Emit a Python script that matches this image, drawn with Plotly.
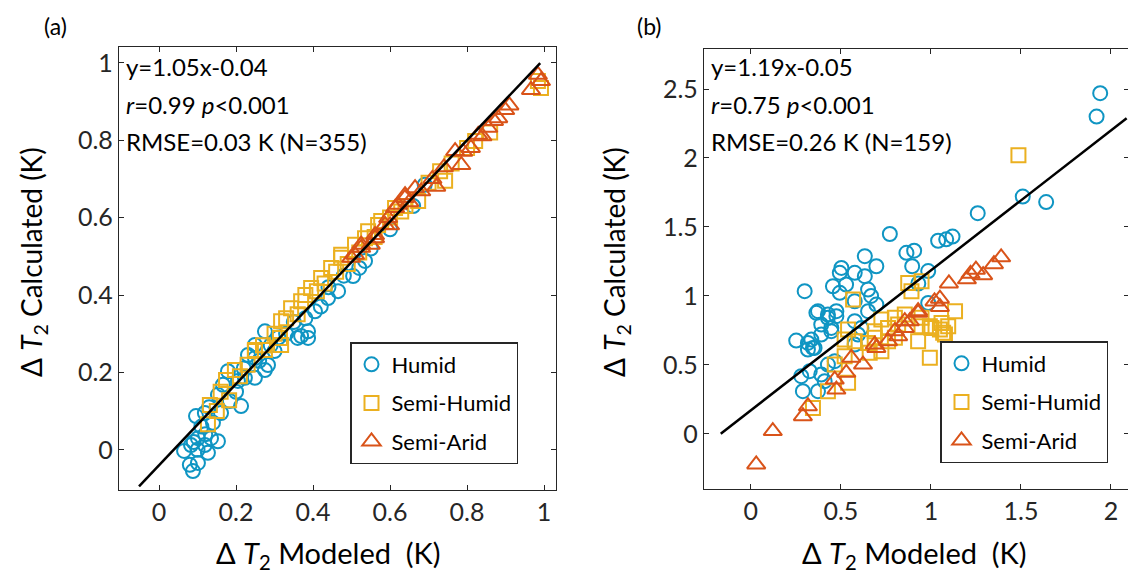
import plotly.graph_objects as go

W, H = 1136, 573

# ---------------- data: panel (a) ----------------
a_humid_x = [0.088, 0.080, 0.065, 0.101, 0.127, 0.153, 0.083, 0.119, 0.101, 0.135, 0.096, 0.119, 0.161,
             0.213, 0.184, 0.153, 0.166, 0.205, 0.223, 0.249, 0.275, 0.283, 0.179, 0.249, 0.300, 0.360,
             0.387, 0.387, 0.369, 0.405, 0.439, 0.465, 0.504, 0.535, 0.275, 0.249, 0.231, 0.110, 0.140,
             0.130, 0.200, 0.220, 0.260, 0.290, 0.310, 0.330, 0.350, 0.380, 0.420, 0.440, 0.480, 0.520,
             0.100, 0.090, 0.120, 0.550, 0.600, 0.690, 0.660]
a_humid_y = [-0.055, -0.039, -0.003, -0.034, -0.008, 0.022, 0.012, 0.012, 0.030, 0.030, 0.087, 0.095, 0.095,
             0.113, 0.126, 0.142, 0.168, 0.178, 0.186, 0.186, 0.206, 0.219, 0.203, 0.237, 0.255, 0.289,
             0.289, 0.306, 0.294, 0.358, 0.392, 0.410, 0.449, 0.488, 0.306, 0.271, 0.245, 0.060, 0.070,
             0.110, 0.150, 0.210, 0.230, 0.270, 0.290, 0.300, 0.330, 0.340, 0.370, 0.420, 0.450, 0.470,
             0.000, 0.020, 0.040, 0.520, 0.570, 0.685, 0.630]

a_semihumid_x = [0.127, 0.132, 0.182, 0.174, 0.197, 0.249, 0.275, 0.317, 0.249, 0.317, 0.314, 0.343, 0.369,
                 0.395, 0.421, 0.447, 0.473, 0.509, 0.543, 0.577, 0.613, 0.473, 0.535, 0.569, 0.629, 0.673,
                 0.730, 0.743, 0.821, 0.984, 0.992, 0.150, 0.160, 0.210, 0.230, 0.270, 0.300, 0.330, 0.360,
                 0.380, 0.410, 0.430, 0.460, 0.490, 0.520, 0.560, 0.600, 0.640, 0.700, 0.760, 0.800, 0.860]
a_semihumid_y = [0.066, 0.116, 0.128, 0.180, 0.206, 0.255, 0.258, 0.271, 0.258, 0.332, 0.289, 0.366, 0.384,
                 0.418, 0.444, 0.470, 0.496, 0.530, 0.565, 0.591, 0.625, 0.504, 0.547, 0.581, 0.616, 0.643,
                 0.720, 0.695, 0.798, 0.953, 0.935, 0.100, 0.150, 0.190, 0.220, 0.270, 0.300, 0.340, 0.350,
                 0.400, 0.410, 0.430, 0.460, 0.480, 0.510, 0.550, 0.600, 0.630, 0.690, 0.740, 0.780, 0.820]

a_semiarid_x = [0.984, 0.966, 0.992, 0.899, 0.881, 0.855, 0.829, 0.810, 0.785, 0.769, 0.665, 0.639, 0.681,
                0.613, 0.587, 0.561, 0.525, 0.499, 0.509, 0.525, 0.561, 0.595, 0.621, 0.639, 0.710, 0.740,
                0.790, 0.840, 0.870, 0.910, 0.720, 0.600, 0.550, 0.650]
a_semiarid_y = [0.969, 0.930, 0.953, 0.878, 0.857, 0.832, 0.814, 0.780, 0.736, 0.772, 0.676, 0.658, 0.668,
                0.625, 0.581, 0.555, 0.522, 0.496, 0.504, 0.530, 0.547, 0.599, 0.633, 0.651, 0.700, 0.730,
                0.770, 0.810, 0.850, 0.890, 0.680, 0.580, 0.530, 0.640]

a_fit_x = [-0.052, 0.99]
a_fit_slope, a_fit_icpt = 1.05, -0.04
a_ticks = [0, 0.2, 0.4, 0.6, 0.8, 1]

# ---------------- data: panel (b) ----------------
b_humid_x = [0.772, 0.633, 0.697, 0.864, 0.907, 0.896, 1.040, 0.503, 0.494, 0.577, 0.633, 0.456, 0.529,
             0.299, 0.494, 0.651, 0.668, 0.577, 0.697, 0.373, 0.475, 0.428, 0.391, 0.447, 0.985, 0.985,
             0.252, 0.336, 0.345, 0.317, 0.595, 0.577, 1.260, 1.120, 1.085, 1.510, 1.640, 1.920, 1.940,
             0.317, 0.354, 0.364, 0.428, 0.475, 0.447, 0.391, 0.280, 0.327, 0.289, 0.373, 0.391, 0.428,
             0.466, 0.410, 0.577, 0.614, 0.651, 0.930]
b_humid_y = [1.449, 1.288, 1.215, 1.312, 1.328, 1.215, 1.400, 1.203, 1.167, 1.167, 1.143, 1.070, 1.082,
             1.034, 1.022, 1.046, 1.000, 0.961, 0.937, 0.889, 0.889, 0.841, 0.792, 0.768, 1.180, 0.949,
             0.676, 0.683, 0.623, 0.611, 0.720, 0.647, 1.600, 1.430, 1.410, 1.720, 1.680, 2.300, 2.470,
             0.659, 0.623, 0.877, 0.865, 0.853, 0.744, 0.720, 0.418, 0.454, 0.309, 0.309, 0.430, 0.502,
             0.527, 0.382, 0.817, 0.768, 0.889, 1.090]

b_semihumid_x = [1.486, 0.568, 0.874, 0.948, 0.892, 0.540, 0.521, 0.725, 0.762, 0.800, 0.855, 0.948, 1.003,
                 0.800, 0.688, 0.651, 0.929, 0.466, 0.540, 0.428, 0.345, 0.577, 0.688, 0.762, 0.818, 0.948,
                 1.059, 1.096, 1.078, 1.134, 0.994, 0.660, 0.725, 0.521, 1.050, 1.068, 0.994]
b_semihumid_y = [2.020, 0.973, 1.094, 1.106, 1.034, 0.756, 0.683, 0.828, 0.768, 0.696, 0.865, 0.780, 0.768,
                 0.841, 0.744, 0.659, 0.672, 0.502, 0.370, 0.309, 0.188, 0.672, 0.696, 0.672, 0.792, 0.841,
                 0.804, 0.780, 0.720, 0.889, 0.551, 0.587, 0.599, 0.563, 0.756, 0.732, 0.780]

b_semiarid_x = [0.030, 0.122, 0.289, 0.317, 0.475, 0.466, 0.530, 0.558, 0.623, 0.697, 0.762, 0.818, 0.855,
                0.883, 0.929, 1.050, 1.050, 1.250, 1.290, 1.350, 1.390, 1.220, 1.100, 1.020, 0.929, 0.855,
                0.800, 0.688, 1.200]
b_semiarid_y = [-0.222, 0.020, 0.128, 0.200, 0.321, 0.393, 0.442, 0.551, 0.502, 0.623, 0.672, 0.708, 0.768,
                0.817, 0.877, 0.980, 0.920, 1.190, 1.150, 1.230, 1.280, 1.160, 1.090, 0.960, 0.889, 0.817,
                0.744, 0.647, 1.120]

b_fit_x = [-0.167, 2.087]
b_fit_slope, b_fit_icpt = 1.015, 0.17
b_xticks = [0, 0.5, 1, 1.5, 2]
b_yticks = [0, 0.5, 1, 1.5, 2, 2.5]

series_names = ["Humid", "Semi-Humid", "Semi-Arid"]
colors = ["#0f95c3", "#ebb020", "#d95319"]
symbols = ["circle-open", "square-open", "triangle-up-open"]
sizes = [14, 14, 16]

FONT = "Lato"
AX_COLOR = "#262626"


def px_x(p):
    return p / W


def px_y(p):
    return 1 - p / H


fig = go.Figure()

panels = [
    ("x", "y", "legend", [(a_humid_x, a_humid_y), (a_semihumid_x, a_semihumid_y), (a_semiarid_x, a_semiarid_y)],
     a_fit_x, a_fit_slope, a_fit_icpt),
    ("x2", "y2", "legend2", [(b_humid_x, b_humid_y), (b_semihumid_x, b_semihumid_y), (b_semiarid_x, b_semiarid_y)],
     b_fit_x, b_fit_slope, b_fit_icpt),
]

for xa, ya, leg, series, fx, slope, icpt in panels:
    for i, (sx, sy) in enumerate(series):
        fig.add_trace(go.Scatter(
            x=sx, y=sy, mode="markers", name=series_names[i], xaxis=xa, yaxis=ya,
            legend=leg, legendgroup=leg + str(i),
            marker=dict(symbol=symbols[i], size=sizes[i], color=colors[i], line=dict(width=2, color=colors[i])),
        ))
    fig.add_trace(go.Scatter(
        x=fx, y=[slope * v + icpt for v in fx], mode="lines", xaxis=xa, yaxis=ya,
        line=dict(color="black", width=2.5), showlegend=False, hoverinfo="skip",
    ))

axis_common = dict(
    showgrid=False, zeroline=False, showline=True, linecolor=AX_COLOR, linewidth=1.4,
    mirror="ticks", ticks="inside", ticklen=5, tickwidth=1.2, tickcolor=AX_COLOR,
    tickfont=dict(family=FONT, size=25, color="#262626"), automargin=False, tickmode="array",
)
xcommon = dict(axis_common, ticklabelstandoff=0)
ycommon = dict(axis_common, ticksuffix="\u00a0")

fig.update_layout(
    width=W, height=H, plot_bgcolor="white", paper_bgcolor="white",
    margin=dict(l=0, r=0, t=0, b=0),
    font=dict(family=FONT, color="black"),
    xaxis=dict(domain=[px_x(111), px_x(548)], range=[-0.104, 1.031], tickvals=a_ticks, anchor="y", **xcommon),
    yaxis=dict(domain=[px_y(482), px_y(39)], range=[-0.104, 1.041], tickvals=a_ticks, anchor="x", **ycommon),
    xaxis2=dict(domain=[px_x(696), px_x(1121)], range=[-0.26, 2.10], tickvals=b_xticks, anchor="y2", **xcommon),
    yaxis2=dict(domain=[px_y(481), px_y(41)], range=[-0.40, 2.79], tickvals=b_yticks, anchor="x2", **ycommon),
    legend=dict(x=px_x(342), y=px_y(334), xanchor="left", yanchor="top", bgcolor="white",
                bordercolor="#262626", borderwidth=1.5, font=dict(family=FONT, size=22, color="black"),
                tracegroupgap=7, itemsizing="trace"),
    legend2=dict(x=px_x(932), y=px_y(333), xanchor="left", yanchor="top", bgcolor="white",
                 bordercolor="#262626", borderwidth=1.5, font=dict(family=FONT, size=22, color="black"),
                 tracegroupgap=7, itemsizing="trace"),
    showlegend=True,
)

ann = []


def add_text(text, x, y, size=20, xanchor="left", angle=0):
    ann.append(dict(text=text, x=px_x(x), y=px_y(y), xref="paper", yref="paper", showarrow=False,
                    xanchor=xanchor, yanchor="middle", textangle=angle,
                    font=dict(family=FONT, size=size, color="black")))


add_text("(a)", 47, 18, 23, xanchor="center")
add_text("(b)", 641, 18, 23, xanchor="center")
for x0, lines in [(116, ["y=1.05x-0.04", "<i>r</i>=0.99 <i>p</i>&lt;0.001", "RMSE=0.03 K (N=355)"]),
                  (701, ["y=1.19x-0.05", "<i>r</i>=0.75 <i>p</i>&lt;0.001", "RMSE=0.26 K (N=159)"])]:
    for k, t in enumerate(lines):
        add_text(t, x0, [58, 97, 133][k], 24)

xt = "\u0394 <i>T</i><sub>2</sub> Modeled  (K)"
yt = "\u0394 <i>T</i><sub>2</sub> Calculated (K)"
add_text(xt, 320, 546, 29, xanchor="center")
add_text(xt, 906, 546, 29, xanchor="center")
add_text(yt, 25, 254, 28, xanchor="center", angle=-90)
add_text(yt, 608, 254, 28, xanchor="center", angle=-90)

fig.update_layout(annotations=ann)
fig.write_html("out.html")
